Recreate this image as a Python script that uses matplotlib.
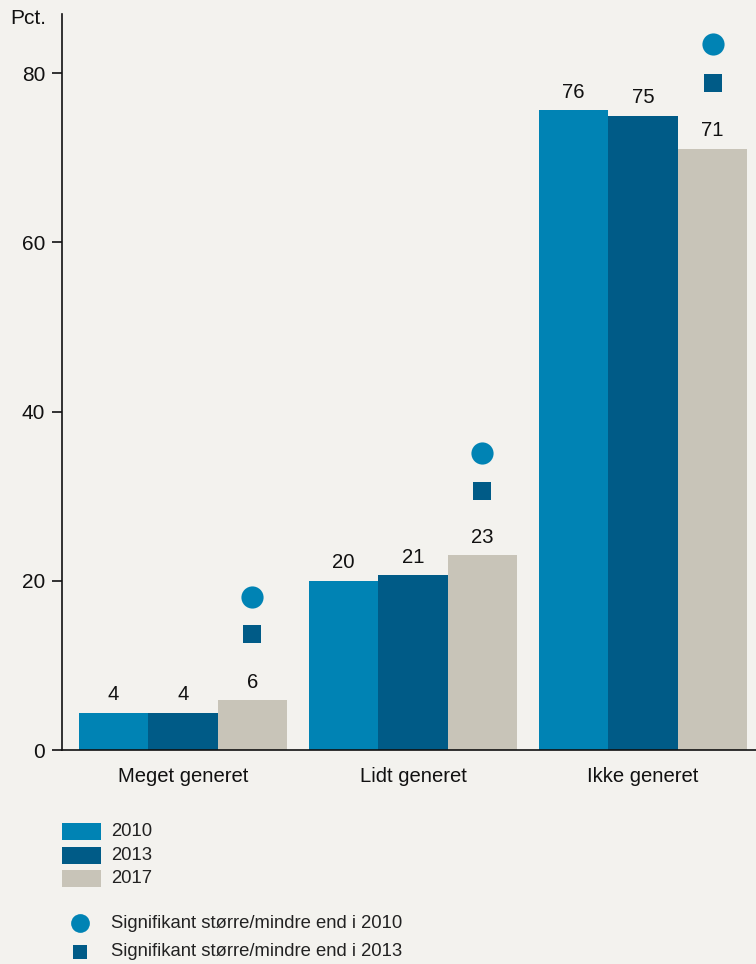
import matplotlib.pyplot as plt
from matplotlib.patches import Rectangle
from matplotlib.lines import Line2D
import numpy as np

plt.rcParams['font.family'] = ['Liberation Sans', 'DejaVu Sans']

categories = ['Meget generet', 'Lidt generet', 'Ikke generet']
years = ['2010', '2013', '2017']
values = {
    '2010': [4.4, 20.0, 75.6],
    '2013': [4.4, 20.7, 75.0],
    '2017': [5.9, 23.0, 71.1],
}
labels = {
    '2010': ['4', '20', '76'],
    '2013': ['4', '21', '75'],
    '2017': ['6', '23', '71'],
}
# significance marks drawn above the 2017 bars
sig_2010 = [18.1, 35.1, 83.4]
sig_2013 = [13.7, 30.6, 78.9]

colors = {'2010': '#0083b4', '2013': '#005b87', '2017': '#c8c4b8'}
bg = '#f3f2ee'

fig = plt.figure(figsize=(7.56, 9.64), dpi=100, facecolor=bg)
ax = fig.add_axes([62/756, 214/964, 694/756, 736/964])
ax.set_facecolor(bg)

x = np.arange(len(categories))
w = 0.302
for i, yr in enumerate(years):
    xs = x + (i - 1) * w
    ax.bar(xs, values[yr], width=w, color=colors[yr], linewidth=0)
    for xi, v, lab in zip(xs, values[yr], labels[yr]):
        ax.annotate(lab, (xi, v), xytext=(0, 6), textcoords='offset points',
                    ha='center', va='bottom', fontsize=14.6, color='#111111')

ax.scatter(x + w, sig_2010, s=255, marker='o', color=colors['2010'], linewidths=0, zorder=3)
ax.scatter(x + w, sig_2013, s=150, marker='s', color=colors['2013'], linewidths=0, zorder=3)

ax.set_xlim(-0.526, 2.491)
ax.set_ylim(0, 87)
ax.set_yticks([0, 20, 40, 60, 80])
ax.set_xticks(x)
ax.set_xticklabels(categories)
ax.tick_params(axis='y', length=7, width=1.2, labelsize=15, pad=5, colors='#111111')
ax.tick_params(axis='x', length=0, labelsize=14.6, pad=12, colors='#111111')
for s in ['top', 'right']:
    ax.spines[s].set_visible(False)
for s in ['left', 'bottom']:
    ax.spines[s].set_linewidth(1.2)
    ax.spines[s].set_color('#111111')

fig.text(10/756, 1 - 18/964, 'Pct.', fontsize=15, va='center', ha='left', color='#111111')

# legend drawn in pixel positions
def px(xp, yp):
    return xp / 756, 1 - yp / 964

for yr, ytop in zip(years, [823, 847, 870]):
    x0, y0 = px(62, ytop + 17)
    fig.add_artist(Rectangle((x0, y0), 39/756, 17/964, transform=fig.transFigure,
                             color=colors[yr], linewidth=0))
    tx, ty = px(111, ytop + 8.5)
    fig.text(tx, ty, yr, fontsize=13.3, va='center', ha='left', color='#222222')

cx, cy = px(80, 923)
fig.add_artist(Line2D([cx], [cy], marker='o', markersize=13.5, color=colors['2010'],
                      markeredgewidth=0, transform=fig.transFigure))
tx, ty = px(111, 923)
fig.text(tx, ty, 'Signifikant større/mindre end i 2010', fontsize=13.3, va='center', ha='left', color='#222222')

cx, cy = px(80, 952)
fig.add_artist(Line2D([cx], [cy], marker='s', markersize=9.5, color=colors['2013'],
                      markeredgewidth=0, transform=fig.transFigure))
tx, ty = px(111, 952)
fig.text(tx, ty, 'Signifikant større/mindre end i 2013', fontsize=13.3, va='center', ha='left', color='#222222')

fig.savefig('out.png', dpi=100, facecolor=bg)
